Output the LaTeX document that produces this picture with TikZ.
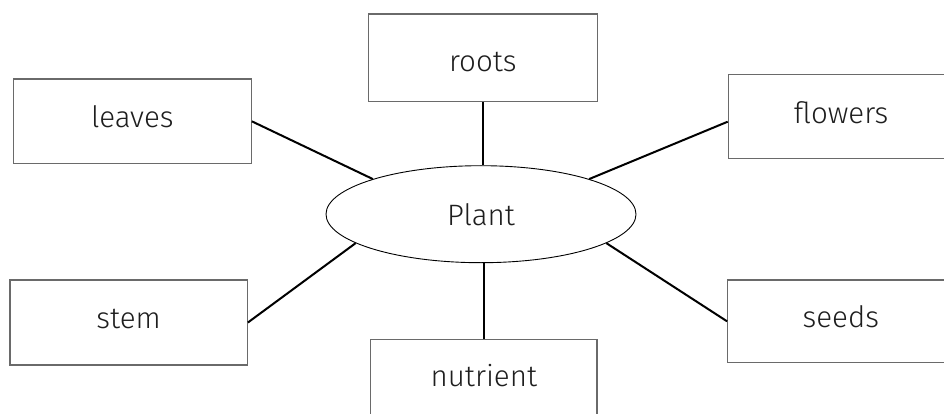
\documentclass[tikz,border=0pt]{standalone}
\usepackage{fontspec}
\setmainfont{Fira Sans}[UprightFont=* Light]
\usetikzlibrary{shapes.geometric}
\definecolor{boxgray}{HTML}{6A6A6A}
\definecolor{txt}{HTML}{1E1E1E}
\begin{document}
\begin{tikzpicture}[x=1pt,y=-1pt,
  lbl/.style={font=\fontsize{29.5}{34}\selectfont,text=txt},
  box/.style={lbl,draw=boxgray,line width=1.2pt,rectangle,inner sep=0pt,text height=21pt,text depth=9pt},
  oval/.style={lbl,draw=black,line width=0.9pt,ellipse,inner sep=0pt,text height=25.8pt,text depth=4.2pt},
  conn/.style={line width=2pt,black}]
\useasboundingbox[fill=white] (0,0) rectangle (944,414);
\node[oval,minimum width=310pt,minimum height=97pt] (plant) at (481,214.2) {Plant};
\node[box,minimum width=229pt,minimum height=87.7pt,text height=29pt,text depth=1pt] (roots) at (482.8,57.9) {roots};
\node[box,minimum width=238pt,minimum height=84.7pt] (leaves) at (132.3,121.35) {leaves};
\node[box,minimum width=225.7pt,minimum height=83.6pt,text height=21.8pt,text depth=8.2pt] (flowers) at (841.15,116.5) {flowers};
\node[box,minimum width=237.3pt,minimum height=85pt] (stem) at (128.65,322.5) {stem};
\node[box,minimum width=226.3pt,minimum height=82.7pt] (seeds) at (840.85,321.35) {seeds};
\node[box,minimum width=226.3pt,minimum height=87pt,text height=18.5pt,text depth=11.5pt] (nutrient) at (483.85,383.2) {nutrient};
\draw[conn] (leaves.east) -- (plant.162.5);
\draw[conn] (roots.south) -- (roots.south |- plant.north);
\draw[conn] ([yshift=-5.2pt]flowers.west) -- (plant.18.2);
\draw[conn] (seeds.west) -- (plant.-13.1);
\draw[conn] (nutrient.north) -- (nutrient.north |- plant.south);
\draw[conn] (stem.east) -- (plant.193.6);
\end{tikzpicture}
\end{document}
